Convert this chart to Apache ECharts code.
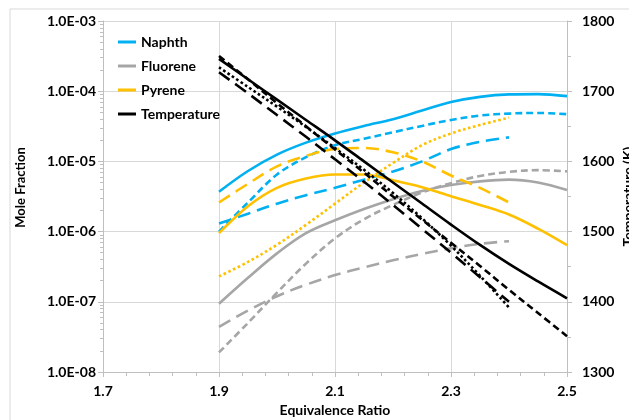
<!DOCTYPE html>
<html>
<head>
<meta charset="utf-8">
<script src="https://cdn.jsdelivr.net/npm/echarts@6/dist/echarts.min.js"></script>
<style>
  html, body { margin: 0; padding: 0; background: #fff; }
  #chart { width: 629px; height: 420px; }
</style>
</head>
<body>
<div id="chart"></div>
<script>
// equivalence ratio samples
const phi = [1.9, 1.95, 2.0, 2.05, 2.1, 2.15, 2.2, 2.25, 2.3, 2.35, 2.4, 2.45, 2.5];

// mole fractions (left, log axis)
const naphthSolid = [3.7e-6, 7.3e-6, 1.25e-5, 1.85e-5, 2.5e-5, 3.2e-5, 4.0e-5, 5.3e-5, 7.0e-5, 8.3e-5, 9.0e-5, 9.1e-5, 8.5e-5];
const naphthDash = [1.0e-6, 2.6e-6, 6.5e-6, 1.15e-5, 1.7e-5, 2.1e-5, 2.6e-5, 3.2e-5, 3.9e-5, 4.5e-5, 4.8e-5, 4.9e-5, 4.7e-5];
const naphthLong = [1.3e-6, 1.8e-6, 2.5e-6, 3.3e-6, 4.2e-6, 5.5e-6, 7.2e-6, 1.0e-5, 1.5e-5, 1.9e-5, 2.2e-5];

const fluoreneSolid = [9.4e-8, 2.2e-7, 4.9e-7, 9.5e-7, 1.45e-6, 2.1e-6, 2.9e-6, 3.8e-6, 4.6e-6, 5.2e-6, 5.5e-6, 5.0e-6, 3.9e-6];
const fluoreneDash = [1.9e-8, 5.0e-8, 1.35e-7, 3.5e-7, 8.0e-7, 1.5e-6, 2.4e-6, 3.6e-6, 4.9e-6, 6.2e-6, 7.1e-6, 7.5e-6, 7.2e-6];
const fluoreneLong = [4.4e-8, 7.5e-8, 1.2e-7, 1.75e-7, 2.4e-7, 3.1e-7, 3.9e-7, 4.8e-7, 5.8e-7, 6.7e-7, 7.3e-7];

const pyreneSolid = [9.5e-7, 2.3e-6, 4.2e-6, 5.7e-6, 6.5e-6, 6.5e-6, 5.4e-6, 4.3e-6, 3.2e-6, 2.4e-6, 1.75e-6, 1.1e-6, 6.4e-7];
const pyreneLong = [2.6e-6, 4.8e-6, 8.5e-6, 1.2e-5, 1.5e-5, 1.55e-5, 1.35e-5, 1.0e-5, 6.3e-6, 4.2e-6, 2.6e-6];
const pyreneDot = [2.3e-7, 3.7e-7, 6.5e-7, 1.25e-6, 2.5e-6, 5.0e-6, 9.5e-6, 1.7e-5, 2.5e-5, 3.3e-5, 4.2e-5];

// temperature (right axis, K)
const tempSolid = [1746, 1717, 1688, 1659, 1630, 1600, 1570, 1540, 1510, 1481, 1454, 1429, 1405];
const tempDash = [1750, 1717, 1683, 1650, 1617, 1584, 1550, 1517, 1484, 1451, 1417, 1384, 1351];
const tempDot = [1734, 1706, 1678, 1649, 1619, 1588, 1555, 1519, 1480, 1437, 1392];
const tempLong = [1727, 1697, 1666, 1635, 1603, 1571, 1538, 1504, 1470, 1435, 1400];

// axis ticks
const xMajor = [1.7, 1.9, 2.1, 2.3, 2.5];
const xMinor = [1.74, 1.78, 1.82, 1.86, 1.94, 1.98, 2.02, 2.06, 2.14, 2.18, 2.22, 2.26, 2.34, 2.38, 2.42, 2.46];
const yMinor = [];
for (let e = -8; e < -3; e++) {
    for (let m = 2; m <= 9; m++) yMinor.push(m * Math.pow(10, e));
}

const BLUE = '#00B0F0', GRAY = '#A6A6A6', ORANGE = '#FFC000', BLACK = '#000000';
const FONT = 'Lato';
const AXIS_GRAY = '#BFBFBF';

function pairs(ys) {
    return ys.map((v, i) => [phi[i], v]);
}

function line(name, color, dash, ys, yAxisIndex) {
    return {
        name: name,
        type: 'line',
        yAxisIndex: yAxisIndex,
        data: pairs(ys),
        smooth: 0.35,
        showSymbol: false,
        symbol: 'none',
        lineStyle: { color: color, width: 2.6, type: dash, cap: 'butt' },
        itemStyle: { color: color },
        z: color === BLACK ? 5 : 3
    };
}

const chart = echarts.init(document.getElementById('chart'), null, { renderer: 'canvas' });

chart.setOption({
    animation: false,
    textStyle: { fontFamily: FONT },
    graphic: [{
        type: 'rect',
        shape: { x: 10, y: 9, width: 700, height: 500 },
        style: { fill: 'none', stroke: '#D9D9D9', lineWidth: 1 },
        silent: true
    }],
    grid: {
        left: 103, right: 62, top: 21, bottom: 48,
        containLabel: false, outerBoundsMode: 'none'
    },
    legend: {
        data: ['Naphth', 'Fluorene', 'Pyrene', 'Temperature'],
        orient: 'vertical',
        left: 113, top: 30,
        icon: 'rect',
        itemWidth: 18, itemHeight: 3, itemGap: 10,
        textStyle: { fontFamily: FONT, fontSize: 14, fontWeight: 'bold', color: '#000' }
    },
    xAxis: [{
        type: 'value',
        min: 1.7, max: 2.5,
        name: 'Equivalence Ratio',
        nameLocation: 'middle',
        nameGap: 31,
        nameTextStyle: { fontFamily: FONT, fontSize: 14, fontWeight: 'bold', color: '#000' },
        axisLine: { show: true, lineStyle: { color: AXIS_GRAY, width: 1 } },
        axisTick: { show: true, length: 5, customValues: xMajor, lineStyle: { color: AXIS_GRAY } },
        axisLabel: {
            customValues: xMajor, margin: 12,
            fontFamily: FONT, fontSize: 14, fontWeight: 'bold', color: '#000',
            formatter: v => v.toFixed(1)
        },
        splitLine: { show: true, lineStyle: { color: '#D9D9D9', width: 1 } }
    }, {
        type: 'value',
        min: 1.7, max: 2.5,
        position: 'bottom',
        axisLine: { show: false },
        axisTick: { show: true, length: 4, customValues: xMinor, lineStyle: { color: AXIS_GRAY } },
        axisLabel: { show: false },
        splitLine: { show: false }
    }],
    yAxis: [{
        type: 'log',
        logBase: 10,
        min: 1e-8, max: 1e-3,
        position: 'left',
        name: 'Mole Fraction',
        nameLocation: 'middle',
        nameRotate: 90,
        nameGap: 76,
        nameMoveOverlap: false,
        nameTextStyle: { fontFamily: FONT, fontSize: 13, fontWeight: 'bold', color: '#000', padding: [0, 0, 0, 18] },
        axisLine: { show: true, lineStyle: { color: AXIS_GRAY, width: 1 } },
        axisTick: { show: true, length: 5, lineStyle: { color: AXIS_GRAY } },
        axisLabel: {
            margin: 7,
            fontFamily: FONT, fontSize: 14, fontWeight: 'bold', color: '#000',
            formatter: v => {
                const e = Math.round(Math.log10(v));
                return '1.0E-' + String(-e).padStart(2, '0');
            }
        },
        splitLine: { show: true, lineStyle: { color: '#D9D9D9', width: 1 } }
    }, {
        type: 'value',
        min: 1300, max: 1800, interval: 100,
        position: 'right',
        name: 'Temperature (K)',
        nameLocation: 'middle',
        nameRotate: 90,
        nameGap: 54,
        nameMoveOverlap: false,
        nameTextStyle: { fontFamily: FONT, fontSize: 14, fontWeight: 'bold', color: '#000' },
        axisLine: { show: true, lineStyle: { color: AXIS_GRAY, width: 1 } },
        axisTick: { show: true, length: 5, lineStyle: { color: AXIS_GRAY } },
        minorTick: { show: true, splitNumber: 2, length: 4, lineStyle: { color: AXIS_GRAY } },
        axisLabel: {
            margin: 15, fontFamily: FONT, fontSize: 14, fontWeight: 'bold', color: '#000',
            formatter: v => String(v)
        },
        splitLine: { show: false }
    }, {
        type: 'log',
        logBase: 10,
        min: 1e-8, max: 1e-3,
        position: 'left',
        axisLine: { show: false },
        axisTick: { show: true, length: 3, customValues: yMinor, lineStyle: { color: AXIS_GRAY } },
        axisLabel: { show: false },
        splitLine: { show: false }
    }],
    series: [
        line('Naphth', BLUE, 'solid', naphthSolid, 0),
        line('Naphth dash', BLUE, [7, 4], naphthDash, 0),
        line('Naphth long dash', BLUE, [13, 7], naphthLong, 0),
        line('Fluorene', GRAY, 'solid', fluoreneSolid, 0),
        line('Fluorene dash', GRAY, [7, 4], fluoreneDash, 0),
        line('Fluorene long dash', GRAY, [13, 7], fluoreneLong, 0),
        line('Pyrene', ORANGE, 'solid', pyreneSolid, 0),
        line('Pyrene long dash', ORANGE, [13, 7], pyreneLong, 0),
        line('Pyrene dot', ORANGE, [2.6, 2.6], pyreneDot, 0),
        line('Temperature', BLACK, 'solid', tempSolid, 1),
        line('Temperature dash', BLACK, [7, 4], tempDash, 1),
        line('Temperature dot', BLACK, [2.6, 2.6], tempDot, 1),
        line('Temperature long dash', BLACK, [13, 7], tempLong, 1)
    ]
});
</script>
</body>
</html>
